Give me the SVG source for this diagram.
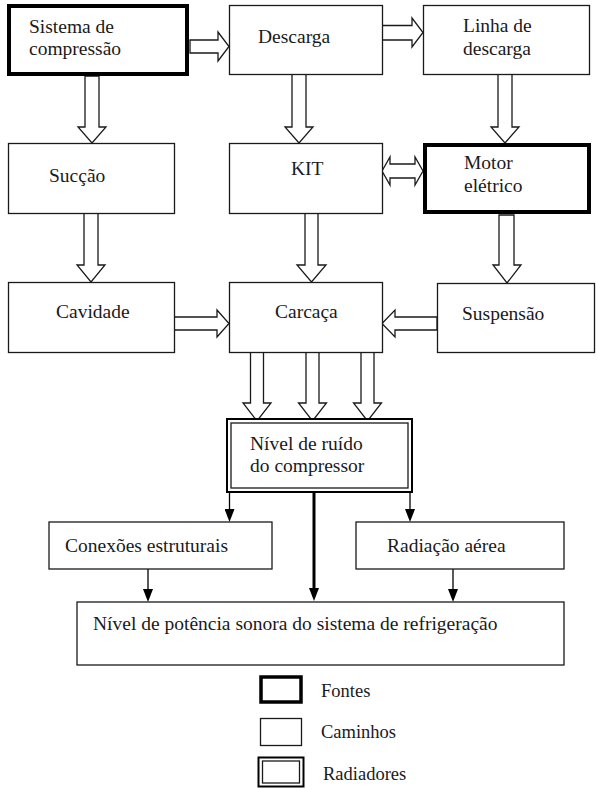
<svg xmlns="http://www.w3.org/2000/svg" width="596" height="788" viewBox="0 0 596 788" font-family="'Liberation Serif', 'DejaVu Serif', serif">
<style>
text{font-family:'Liberation Serif','DejaVu Serif',serif;font-size:19.5px;fill:#1a1a1a}
.box{fill:#fff;stroke:#1a1a1a;stroke-width:1.3}
.src{fill:#fff;stroke:#000;stroke-width:4}
.rad-o{fill:#fff;stroke:#000;stroke-width:2}
.rad-i{fill:none;stroke:#1a1a1a;stroke-width:1.3}
.blk{fill:#fff;stroke:#1a1a1a;stroke-width:1.3;stroke-linejoin:miter}
.ln{stroke:#000;stroke-width:1.3;fill:none}
.ln-thick{stroke:#000;stroke-width:3;fill:none}
.lg{font-size:18.5px}
</style>
<defs>
<marker id="ah" viewBox="0 0 13 10" refX="0" refY="5" markerWidth="13" markerHeight="10" markerUnits="userSpaceOnUse" orient="auto"><path d="M0,0 L13,5 L0,10 Z" fill="#000"/></marker>
</defs>

<g id="connectors">
<path class="blk" d="M85,76 V127 H78 L92,143 L106,127 H99 V76 Z"/>
<path class="blk" d="M292,74 V127 H285 L299,143 L313,127 H306 V74 Z"/>
<path class="blk" d="M498,74 V127 H491 L505,143 L519,127 H512 V74 Z"/>
<path class="blk" d="M84,213 V265 H77 L91,282 L105,265 H98 V213 Z"/>
<path class="blk" d="M305,213 V265 H297 L311.5,282 L326,265 H318 V213 Z"/>
<path class="blk" d="M499,215 V265 H493 L507,283 L521,265 H514 V215 Z"/>
<path class="blk" d="M250.5,352 V403 H243 L257,421 L271,403 H263.5 V352 Z"/>
<path class="blk" d="M306,352 V403 H298.5 L312.5,421 L326.5,403 H319 V352 Z"/>
<path class="blk" d="M361,352 V403 H353.5 L367.5,421 L381.5,403 H374 V352 Z"/>
<path class="blk" d="M190,40 H218 V32 L229,46.5 L218,61 V53 H190 Z"/>
<path class="blk" d="M382,25.5 H412 V18 L423,32.5 L412,47 V40 H382 Z"/>
<path class="blk" d="M174,317 H217 V310 L229,323.5 L217,337 V330 H174 Z"/>
<path class="blk" d="M437,317 H395 V310 L382,323.5 L395,337 V330 H437 Z"/>
<path class="blk" d="M382,171 L390,157 V164 H415 V157 L423,171 L415,185 V178 H390 V185 Z"/>
<line class="ln" x1="229.5" y1="492" x2="229.5" y2="509" marker-end="url(#ah)"/>
<line class="ln" x1="410" y1="492" x2="410" y2="509" marker-end="url(#ah)"/>
<line class="ln-thick" x1="314" y1="492" x2="314" y2="588" marker-end="url(#ah)"/>
<line class="ln" x1="148" y1="569" x2="148" y2="589" marker-end="url(#ah)"/>
<line class="ln" x1="453" y1="569" x2="453" y2="589" marker-end="url(#ah)"/>
</g>

<g id="n-sistema">
<rect class="src" x="9" y="6" width="178" height="68"/>
<text x="29" y="33">Sistema de</text>
<text x="29" y="55">compressão</text>
</g>
<g id="n-descarga">
<rect class="box" x="229.5" y="5.5" width="153" height="69"/>
<text x="258" y="43">Descarga</text>
</g>
<g id="n-linha">
<rect class="box" x="423.5" y="5.5" width="166" height="69"/>
<text x="463" y="32">Linha de</text>
<text x="463" y="55">descarga</text>
</g>
<g id="n-succao">
<rect class="box" x="8.5" y="143.5" width="166" height="70"/>
<text x="49" y="182">Sucção</text>
</g>
<g id="n-kit">
<rect class="box" x="229.5" y="143.5" width="153" height="70"/>
<text x="291" y="175">KIT</text>
</g>
<g id="n-motor">
<rect class="src" x="425" y="145" width="164" height="67"/>
<text x="464" y="169">Motor</text>
<text x="464" y="192">elétrico</text>
</g>
<g id="n-cavidade">
<rect class="box" x="8.5" y="282.5" width="166" height="70"/>
<text x="56" y="318">Cavidade</text>
</g>
<g id="n-carcaca">
<rect class="box" x="229.5" y="282.5" width="153" height="70"/>
<text x="275" y="318">Carcaça</text>
</g>
<g id="n-suspensao">
<rect class="box" x="437.5" y="283.5" width="157" height="69"/>
<text x="462" y="320">Suspensão</text>
</g>
<g id="n-ruido">
<rect class="rad-o" x="227" y="419" width="185" height="73"/>
<rect class="rad-i" x="231" y="423" width="177" height="65"/>
<text x="250" y="450">Nível de ruído</text>
<text x="250" y="472">do compressor</text>
</g>
<g id="n-conexoes">
<rect class="box" x="49" y="522" width="223" height="47"/>
<text x="65" y="552">Conexões estruturais</text>
</g>
<g id="n-radiacao">
<rect class="box" x="356" y="522" width="208" height="47"/>
<text x="387" y="552">Radiação aérea</text>
</g>
<g id="n-potencia">
<rect class="box" x="77" y="602" width="487" height="63"/>
<text x="93" y="630">Nível de potência sonora do sistema de refrigeração</text>
</g>

<g id="legend">
<rect x="261" y="677" width="40" height="25" fill="#fff" stroke="#000" stroke-width="3.5"/>
<text class="lg" x="321" y="697">Fontes</text>
<rect class="box" x="260.5" y="718.5" width="41" height="27"/>
<text class="lg" x="321" y="738">Caminhos</text>
<rect class="rad-o" x="258.5" y="757.5" width="45" height="29"/>
<rect class="rad-i" x="262.5" y="761" width="37" height="22"/>
<text class="lg" x="323" y="780">Radiadores</text>
</g>
</svg>
